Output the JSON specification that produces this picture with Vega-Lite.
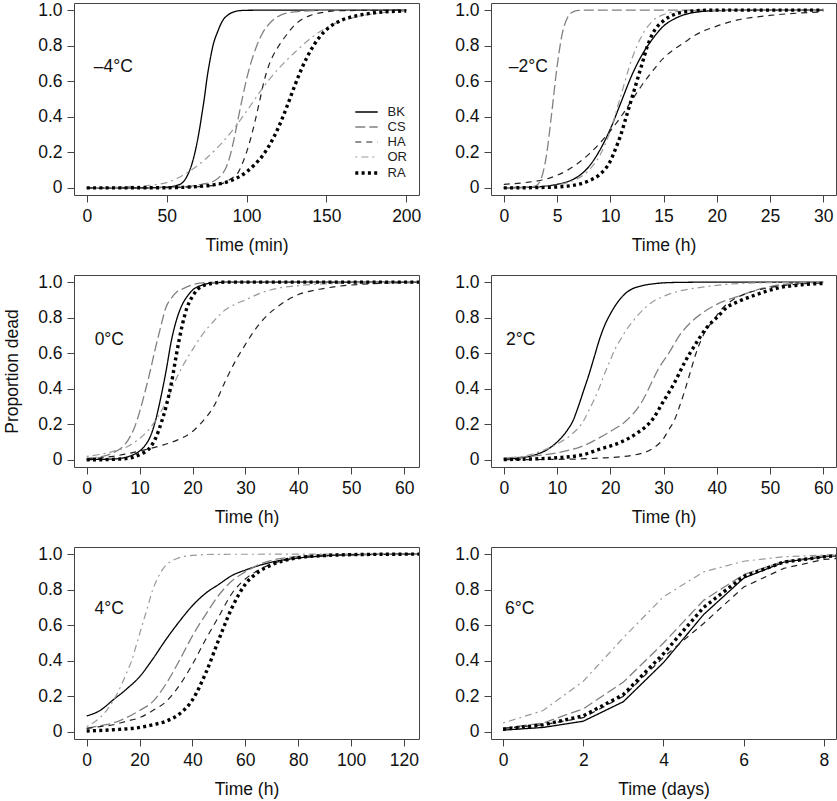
{
"$schema": "https://vega.github.io/schema/vega-lite/v6.json",
"padding": {"left": 3, "top": 0, "right": 2, "bottom": 2},
"bounds": "flush",
"spacing": {"row": 80, "column": 72},
"columns": 2,
"datasets": {
"lab": [
{"g":"a","txt":"–4°C","t":4.4,"p":0.68},
{"g":"b","txt":"–2°C","t":0.47,"p":0.68},
{"g":"c","txt":"0°C","t":1.5,"p":0.674},
{"g":"d","txt":"2°C","t":0.4,"p":0.674},
{"g":"e","txt":"4°C","t":3.0,"p":0.69},
{"g":"f","txt":"6°C","t":0.05,"p":0.69}
],
"curves": [
{"g":"a","s":"BK","t":0,"p":0},{"g":"a","s":"BK","t":30,"p":0},{"g":"a","s":"BK","t":45,"p":0.002},{"g":"a","s":"BK","t":52,"p":0.006},{"g":"a","s":"BK","t":56,"p":0.013},{"g":"a","s":"BK","t":60,"p":0.03},{"g":"a","s":"BK","t":63,"p":0.07},{"g":"a","s":"BK","t":66,"p":0.14},{"g":"a","s":"BK","t":68,"p":0.21},{"g":"a","s":"BK","t":70,"p":0.3},{"g":"a","s":"BK","t":72,"p":0.41},{"g":"a","s":"BK","t":74,"p":0.53},{"g":"a","s":"BK","t":75,"p":0.6},{"g":"a","s":"BK","t":77,"p":0.71},{"g":"a","s":"BK","t":79,"p":0.8},{"g":"a","s":"BK","t":82,"p":0.88},{"g":"a","s":"BK","t":85,"p":0.94},{"g":"a","s":"BK","t":88,"p":0.97},{"g":"a","s":"BK","t":92,"p":0.99},{"g":"a","s":"BK","t":96,"p":0.997},{"g":"a","s":"BK","t":100,"p":0.999},{"g":"a","s":"BK","t":120,"p":1},{"g":"a","s":"BK","t":200,"p":1},
{"g":"a","s":"CS","t":0,"p":0},{"g":"a","s":"CS","t":40,"p":0.001},{"g":"a","s":"CS","t":55,"p":0.004},{"g":"a","s":"CS","t":65,"p":0.01},{"g":"a","s":"CS","t":72,"p":0.02},{"g":"a","s":"CS","t":80,"p":0.04},{"g":"a","s":"CS","t":84,"p":0.07},{"g":"a","s":"CS","t":87,"p":0.11},{"g":"a","s":"CS","t":90,"p":0.19},{"g":"a","s":"CS","t":93,"p":0.31},{"g":"a","s":"CS","t":95,"p":0.4},{"g":"a","s":"CS","t":98,"p":0.53},{"g":"a","s":"CS","t":100,"p":0.61},{"g":"a","s":"CS","t":103,"p":0.71},{"g":"a","s":"CS","t":106,"p":0.79},{"g":"a","s":"CS","t":110,"p":0.87},{"g":"a","s":"CS","t":115,"p":0.93},{"g":"a","s":"CS","t":120,"p":0.965},{"g":"a","s":"CS","t":130,"p":0.99},{"g":"a","s":"CS","t":145,"p":0.998},{"g":"a","s":"CS","t":160,"p":1},{"g":"a","s":"CS","t":200,"p":1},
{"g":"a","s":"HA","t":0,"p":0},{"g":"a","s":"HA","t":50,"p":0.001},{"g":"a","s":"HA","t":65,"p":0.005},{"g":"a","s":"HA","t":75,"p":0.01},{"g":"a","s":"HA","t":85,"p":0.025},{"g":"a","s":"HA","t":90,"p":0.05},{"g":"a","s":"HA","t":95,"p":0.09},{"g":"a","s":"HA","t":98,"p":0.15},{"g":"a","s":"HA","t":100,"p":0.2},{"g":"a","s":"HA","t":103,"p":0.29},{"g":"a","s":"HA","t":106,"p":0.4},{"g":"a","s":"HA","t":108,"p":0.48},{"g":"a","s":"HA","t":111,"p":0.6},{"g":"a","s":"HA","t":114,"p":0.69},{"g":"a","s":"HA","t":117,"p":0.75},{"g":"a","s":"HA","t":121,"p":0.81},{"g":"a","s":"HA","t":125,"p":0.86},{"g":"a","s":"HA","t":130,"p":0.915},{"g":"a","s":"HA","t":135,"p":0.95},{"g":"a","s":"HA","t":140,"p":0.97},{"g":"a","s":"HA","t":150,"p":0.99},{"g":"a","s":"HA","t":160,"p":0.997},{"g":"a","s":"HA","t":200,"p":1},
{"g":"a","s":"OR","t":0,"p":0.001},{"g":"a","s":"OR","t":20,"p":0.005},{"g":"a","s":"OR","t":40,"p":0.015},{"g":"a","s":"OR","t":50,"p":0.03},{"g":"a","s":"OR","t":60,"p":0.07},{"g":"a","s":"OR","t":70,"p":0.13},{"g":"a","s":"OR","t":80,"p":0.21},{"g":"a","s":"OR","t":90,"p":0.31},{"g":"a","s":"OR","t":100,"p":0.43},{"g":"a","s":"OR","t":110,"p":0.56},{"g":"a","s":"OR","t":120,"p":0.67},{"g":"a","s":"OR","t":130,"p":0.76},{"g":"a","s":"OR","t":140,"p":0.84},{"g":"a","s":"OR","t":150,"p":0.9},{"g":"a","s":"OR","t":160,"p":0.94},{"g":"a","s":"OR","t":170,"p":0.965},{"g":"a","s":"OR","t":180,"p":0.98},{"g":"a","s":"OR","t":190,"p":0.99},{"g":"a","s":"OR","t":200,"p":0.995},
{"g":"a","s":"RA","t":0,"p":0},{"g":"a","s":"RA","t":50,"p":0.001},{"g":"a","s":"RA","t":60,"p":0.003},{"g":"a","s":"RA","t":70,"p":0.008},{"g":"a","s":"RA","t":80,"p":0.018},{"g":"a","s":"RA","t":90,"p":0.04},{"g":"a","s":"RA","t":100,"p":0.09},{"g":"a","s":"RA","t":105,"p":0.13},{"g":"a","s":"RA","t":110,"p":0.18},{"g":"a","s":"RA","t":115,"p":0.25},{"g":"a","s":"RA","t":120,"p":0.34},{"g":"a","s":"RA","t":125,"p":0.45},{"g":"a","s":"RA","t":130,"p":0.57},{"g":"a","s":"RA","t":135,"p":0.68},{"g":"a","s":"RA","t":140,"p":0.77},{"g":"a","s":"RA","t":145,"p":0.84},{"g":"a","s":"RA","t":150,"p":0.89},{"g":"a","s":"RA","t":160,"p":0.945},{"g":"a","s":"RA","t":170,"p":0.97},{"g":"a","s":"RA","t":180,"p":0.985},{"g":"a","s":"RA","t":190,"p":0.992},{"g":"a","s":"RA","t":200,"p":0.995},

{"g":"b","s":"BK","t":0,"p":0},{"g":"b","s":"BK","t":3,"p":0.005},{"g":"b","s":"BK","t":5,"p":0.02},{"g":"b","s":"BK","t":6,"p":0.035},{"g":"b","s":"BK","t":7,"p":0.065},{"g":"b","s":"BK","t":8,"p":0.12},{"g":"b","s":"BK","t":9,"p":0.21},{"g":"b","s":"BK","t":10,"p":0.33},{"g":"b","s":"BK","t":11,"p":0.48},{"g":"b","s":"BK","t":12,"p":0.63},{"g":"b","s":"BK","t":13,"p":0.75},{"g":"b","s":"BK","t":14,"p":0.84},{"g":"b","s":"BK","t":15,"p":0.91},{"g":"b","s":"BK","t":16,"p":0.95},{"g":"b","s":"BK","t":17,"p":0.975},{"g":"b","s":"BK","t":18,"p":0.988},{"g":"b","s":"BK","t":20,"p":0.997},{"g":"b","s":"BK","t":25,"p":1},{"g":"b","s":"BK","t":30,"p":1},
{"g":"b","s":"CS","t":0,"p":0.001},{"g":"b","s":"CS","t":2,"p":0.003},{"g":"b","s":"CS","t":3,"p":0.012},{"g":"b","s":"CS","t":3.5,"p":0.05},{"g":"b","s":"CS","t":4,"p":0.18},{"g":"b","s":"CS","t":4.5,"p":0.42},{"g":"b","s":"CS","t":5,"p":0.68},{"g":"b","s":"CS","t":5.5,"p":0.87},{"g":"b","s":"CS","t":6,"p":0.96},{"g":"b","s":"CS","t":6.5,"p":0.99},{"g":"b","s":"CS","t":7,"p":0.998},{"g":"b","s":"CS","t":8,"p":1},{"g":"b","s":"CS","t":30,"p":1},
{"g":"b","s":"HA","t":0,"p":0.02},{"g":"b","s":"HA","t":2,"p":0.03},{"g":"b","s":"HA","t":4,"p":0.05},{"g":"b","s":"HA","t":6,"p":0.1},{"g":"b","s":"HA","t":7,"p":0.14},{"g":"b","s":"HA","t":8,"p":0.19},{"g":"b","s":"HA","t":9,"p":0.25},{"g":"b","s":"HA","t":10,"p":0.32},{"g":"b","s":"HA","t":11,"p":0.4},{"g":"b","s":"HA","t":12,"p":0.49},{"g":"b","s":"HA","t":13,"p":0.58},{"g":"b","s":"HA","t":14,"p":0.66},{"g":"b","s":"HA","t":15,"p":0.73},{"g":"b","s":"HA","t":16,"p":0.78},{"g":"b","s":"HA","t":17,"p":0.82},{"g":"b","s":"HA","t":18,"p":0.86},{"g":"b","s":"HA","t":20,"p":0.91},{"g":"b","s":"HA","t":22,"p":0.945},{"g":"b","s":"HA","t":25,"p":0.97},{"g":"b","s":"HA","t":30,"p":0.99},
{"g":"b","s":"OR","t":0,"p":0.003},{"g":"b","s":"OR","t":4,"p":0.01},{"g":"b","s":"OR","t":6,"p":0.03},{"g":"b","s":"OR","t":8,"p":0.1},{"g":"b","s":"OR","t":9,"p":0.18},{"g":"b","s":"OR","t":10,"p":0.32},{"g":"b","s":"OR","t":11,"p":0.52},{"g":"b","s":"OR","t":12,"p":0.72},{"g":"b","s":"OR","t":13,"p":0.86},{"g":"b","s":"OR","t":14,"p":0.94},{"g":"b","s":"OR","t":15,"p":0.975},{"g":"b","s":"OR","t":16,"p":0.99},{"g":"b","s":"OR","t":18,"p":0.998},{"g":"b","s":"OR","t":30,"p":1},
{"g":"b","s":"RA","t":0,"p":0},{"g":"b","s":"RA","t":4,"p":0.003},{"g":"b","s":"RA","t":6,"p":0.01},{"g":"b","s":"RA","t":8,"p":0.04},{"g":"b","s":"RA","t":9,"p":0.075},{"g":"b","s":"RA","t":10,"p":0.15},{"g":"b","s":"RA","t":10.5,"p":0.22},{"g":"b","s":"RA","t":11,"p":0.3},{"g":"b","s":"RA","t":11.5,"p":0.4},{"g":"b","s":"RA","t":12,"p":0.5},{"g":"b","s":"RA","t":12.5,"p":0.6},{"g":"b","s":"RA","t":13,"p":0.7},{"g":"b","s":"RA","t":13.5,"p":0.8},{"g":"b","s":"RA","t":14,"p":0.87},{"g":"b","s":"RA","t":15,"p":0.94},{"g":"b","s":"RA","t":16,"p":0.975},{"g":"b","s":"RA","t":17,"p":0.99},{"g":"b","s":"RA","t":18,"p":0.996},{"g":"b","s":"RA","t":20,"p":1},{"g":"b","s":"RA","t":30,"p":1},

{"g":"c","s":"BK","t":0,"p":0.002},{"g":"c","s":"BK","t":5,"p":0.005},{"g":"c","s":"BK","t":8,"p":0.02},{"g":"c","s":"BK","t":10,"p":0.05},{"g":"c","s":"BK","t":11,"p":0.08},{"g":"c","s":"BK","t":12,"p":0.13},{"g":"c","s":"BK","t":13,"p":0.22},{"g":"c","s":"BK","t":14,"p":0.35},{"g":"c","s":"BK","t":15,"p":0.5},{"g":"c","s":"BK","t":16,"p":0.67},{"g":"c","s":"BK","t":17,"p":0.79},{"g":"c","s":"BK","t":18,"p":0.87},{"g":"c","s":"BK","t":19,"p":0.92},{"g":"c","s":"BK","t":20,"p":0.955},{"g":"c","s":"BK","t":22,"p":0.985},{"g":"c","s":"BK","t":24,"p":0.996},{"g":"c","s":"BK","t":28,"p":1},{"g":"c","s":"BK","t":62.8,"p":1},
{"g":"c","s":"CS","t":0,"p":0.01},{"g":"c","s":"CS","t":3,"p":0.02},{"g":"c","s":"CS","t":5,"p":0.04},{"g":"c","s":"CS","t":7,"p":0.08},{"g":"c","s":"CS","t":8,"p":0.12},{"g":"c","s":"CS","t":9,"p":0.18},{"g":"c","s":"CS","t":10,"p":0.27},{"g":"c","s":"CS","t":11,"p":0.38},{"g":"c","s":"CS","t":12,"p":0.5},{"g":"c","s":"CS","t":13,"p":0.63},{"g":"c","s":"CS","t":14,"p":0.75},{"g":"c","s":"CS","t":15,"p":0.86},{"g":"c","s":"CS","t":16,"p":0.91},{"g":"c","s":"CS","t":17,"p":0.945},{"g":"c","s":"CS","t":18,"p":0.96},{"g":"c","s":"CS","t":20,"p":0.985},{"g":"c","s":"CS","t":23,"p":0.998},{"g":"c","s":"CS","t":30,"p":1},{"g":"c","s":"CS","t":62.8,"p":1},
{"g":"c","s":"HA","t":0,"p":0.005},{"g":"c","s":"HA","t":5,"p":0.02},{"g":"c","s":"HA","t":10,"p":0.05},{"g":"c","s":"HA","t":14,"p":0.08},{"g":"c","s":"HA","t":17,"p":0.11},{"g":"c","s":"HA","t":20,"p":0.16},{"g":"c","s":"HA","t":22,"p":0.22},{"g":"c","s":"HA","t":24,"p":0.3},{"g":"c","s":"HA","t":26,"p":0.43},{"g":"c","s":"HA","t":28,"p":0.55},{"g":"c","s":"HA","t":30,"p":0.65},{"g":"c","s":"HA","t":32,"p":0.74},{"g":"c","s":"HA","t":34,"p":0.81},{"g":"c","s":"HA","t":36,"p":0.86},{"g":"c","s":"HA","t":38,"p":0.9},{"g":"c","s":"HA","t":40,"p":0.93},{"g":"c","s":"HA","t":44,"p":0.96},{"g":"c","s":"HA","t":48,"p":0.978},{"g":"c","s":"HA","t":52,"p":0.988},{"g":"c","s":"HA","t":56,"p":0.994},{"g":"c","s":"HA","t":62.8,"p":0.998},
{"g":"c","s":"OR","t":0,"p":0.02},{"g":"c","s":"OR","t":4,"p":0.04},{"g":"c","s":"OR","t":8,"p":0.08},{"g":"c","s":"OR","t":10,"p":0.12},{"g":"c","s":"OR","t":12,"p":0.18},{"g":"c","s":"OR","t":14,"p":0.27},{"g":"c","s":"OR","t":16,"p":0.39},{"g":"c","s":"OR","t":17,"p":0.46},{"g":"c","s":"OR","t":18,"p":0.52},{"g":"c","s":"OR","t":20,"p":0.62},{"g":"c","s":"OR","t":22,"p":0.71},{"g":"c","s":"OR","t":24,"p":0.78},{"g":"c","s":"OR","t":26,"p":0.84},{"g":"c","s":"OR","t":28,"p":0.875},{"g":"c","s":"OR","t":30,"p":0.9},{"g":"c","s":"OR","t":33,"p":0.94},{"g":"c","s":"OR","t":36,"p":0.965},{"g":"c","s":"OR","t":40,"p":0.98},{"g":"c","s":"OR","t":45,"p":0.99},{"g":"c","s":"OR","t":50,"p":0.995},{"g":"c","s":"OR","t":55,"p":0.998},{"g":"c","s":"OR","t":62.8,"p":1},
{"g":"c","s":"RA","t":0,"p":0},{"g":"c","s":"RA","t":5,"p":0.003},{"g":"c","s":"RA","t":8,"p":0.01},{"g":"c","s":"RA","t":10,"p":0.03},{"g":"c","s":"RA","t":12,"p":0.07},{"g":"c","s":"RA","t":13,"p":0.12},{"g":"c","s":"RA","t":14,"p":0.2},{"g":"c","s":"RA","t":15,"p":0.3},{"g":"c","s":"RA","t":16,"p":0.43},{"g":"c","s":"RA","t":17,"p":0.6},{"g":"c","s":"RA","t":18,"p":0.75},{"g":"c","s":"RA","t":19,"p":0.86},{"g":"c","s":"RA","t":20,"p":0.92},{"g":"c","s":"RA","t":21,"p":0.96},{"g":"c","s":"RA","t":22,"p":0.98},{"g":"c","s":"RA","t":24,"p":0.994},{"g":"c","s":"RA","t":26,"p":1},{"g":"c","s":"RA","t":62.8,"p":1},

{"g":"d","s":"BK","t":0,"p":0.005},{"g":"d","s":"BK","t":4,"p":0.015},{"g":"d","s":"BK","t":6,"p":0.03},{"g":"d","s":"BK","t":8,"p":0.055},{"g":"d","s":"BK","t":10,"p":0.1},{"g":"d","s":"BK","t":12,"p":0.17},{"g":"d","s":"BK","t":13,"p":0.22},{"g":"d","s":"BK","t":14,"p":0.3},{"g":"d","s":"BK","t":15,"p":0.39},{"g":"d","s":"BK","t":16,"p":0.48},{"g":"d","s":"BK","t":17,"p":0.58},{"g":"d","s":"BK","t":18,"p":0.68},{"g":"d","s":"BK","t":19,"p":0.76},{"g":"d","s":"BK","t":20,"p":0.82},{"g":"d","s":"BK","t":21,"p":0.87},{"g":"d","s":"BK","t":22,"p":0.91},{"g":"d","s":"BK","t":23,"p":0.94},{"g":"d","s":"BK","t":24,"p":0.96},{"g":"d","s":"BK","t":26,"p":0.98},{"g":"d","s":"BK","t":28,"p":0.99},{"g":"d","s":"BK","t":32,"p":0.998},{"g":"d","s":"BK","t":40,"p":1},{"g":"d","s":"BK","t":60,"p":1},
{"g":"d","s":"CS","t":0,"p":0.01},{"g":"d","s":"CS","t":5,"p":0.02},{"g":"d","s":"CS","t":10,"p":0.04},{"g":"d","s":"CS","t":15,"p":0.08},{"g":"d","s":"CS","t":18,"p":0.125},{"g":"d","s":"CS","t":20,"p":0.16},{"g":"d","s":"CS","t":23,"p":0.22},{"g":"d","s":"CS","t":26,"p":0.33},{"g":"d","s":"CS","t":28,"p":0.45},{"g":"d","s":"CS","t":29,"p":0.51},{"g":"d","s":"CS","t":31,"p":0.6},{"g":"d","s":"CS","t":33,"p":0.7},{"g":"d","s":"CS","t":35,"p":0.77},{"g":"d","s":"CS","t":37,"p":0.82},{"g":"d","s":"CS","t":40,"p":0.875},{"g":"d","s":"CS","t":44,"p":0.92},{"g":"d","s":"CS","t":48,"p":0.96},{"g":"d","s":"CS","t":52,"p":0.985},{"g":"d","s":"CS","t":56,"p":0.994},{"g":"d","s":"CS","t":60,"p":0.998},
{"g":"d","s":"HA","t":0,"p":0.001},{"g":"d","s":"HA","t":10,"p":0.003},{"g":"d","s":"HA","t":18,"p":0.01},{"g":"d","s":"HA","t":24,"p":0.025},{"g":"d","s":"HA","t":28,"p":0.065},{"g":"d","s":"HA","t":30,"p":0.12},{"g":"d","s":"HA","t":31,"p":0.17},{"g":"d","s":"HA","t":32,"p":0.22},{"g":"d","s":"HA","t":33,"p":0.3},{"g":"d","s":"HA","t":34,"p":0.39},{"g":"d","s":"HA","t":35,"p":0.49},{"g":"d","s":"HA","t":36,"p":0.59},{"g":"d","s":"HA","t":37,"p":0.67},{"g":"d","s":"HA","t":38,"p":0.73},{"g":"d","s":"HA","t":39,"p":0.77},{"g":"d","s":"HA","t":41,"p":0.85},{"g":"d","s":"HA","t":43,"p":0.9},{"g":"d","s":"HA","t":46,"p":0.94},{"g":"d","s":"HA","t":50,"p":0.97},{"g":"d","s":"HA","t":55,"p":0.988},{"g":"d","s":"HA","t":60,"p":0.995},
{"g":"d","s":"OR","t":0,"p":0.01},{"g":"d","s":"OR","t":5,"p":0.03},{"g":"d","s":"OR","t":10,"p":0.09},{"g":"d","s":"OR","t":13,"p":0.15},{"g":"d","s":"OR","t":15,"p":0.22},{"g":"d","s":"OR","t":16,"p":0.28},{"g":"d","s":"OR","t":17,"p":0.34},{"g":"d","s":"OR","t":18,"p":0.41},{"g":"d","s":"OR","t":19,"p":0.49},{"g":"d","s":"OR","t":20,"p":0.56},{"g":"d","s":"OR","t":21,"p":0.63},{"g":"d","s":"OR","t":22,"p":0.68},{"g":"d","s":"OR","t":23,"p":0.73},{"g":"d","s":"OR","t":24,"p":0.77},{"g":"d","s":"OR","t":26,"p":0.84},{"g":"d","s":"OR","t":28,"p":0.89},{"g":"d","s":"OR","t":30,"p":0.92},{"g":"d","s":"OR","t":33,"p":0.95},{"g":"d","s":"OR","t":37,"p":0.97},{"g":"d","s":"OR","t":43,"p":0.99},{"g":"d","s":"OR","t":50,"p":0.997},{"g":"d","s":"OR","t":60,"p":1},
{"g":"d","s":"RA","t":0,"p":0.002},{"g":"d","s":"RA","t":5,"p":0.005},{"g":"d","s":"RA","t":10,"p":0.012},{"g":"d","s":"RA","t":15,"p":0.03},{"g":"d","s":"RA","t":18,"p":0.06},{"g":"d","s":"RA","t":22,"p":0.1},{"g":"d","s":"RA","t":25,"p":0.15},{"g":"d","s":"RA","t":28,"p":0.23},{"g":"d","s":"RA","t":30,"p":0.33},{"g":"d","s":"RA","t":32,"p":0.43},{"g":"d","s":"RA","t":34,"p":0.55},{"g":"d","s":"RA","t":36,"p":0.65},{"g":"d","s":"RA","t":38,"p":0.74},{"g":"d","s":"RA","t":40,"p":0.8},{"g":"d","s":"RA","t":42,"p":0.86},{"g":"d","s":"RA","t":44,"p":0.89},{"g":"d","s":"RA","t":47,"p":0.925},{"g":"d","s":"RA","t":52,"p":0.97},{"g":"d","s":"RA","t":56,"p":0.985},{"g":"d","s":"RA","t":60,"p":0.993},

{"g":"e","s":"BK","t":0,"p":0.09},{"g":"e","s":"BK","t":5,"p":0.12},{"g":"e","s":"BK","t":10,"p":0.18},{"g":"e","s":"BK","t":15,"p":0.24},{"g":"e","s":"BK","t":20,"p":0.31},{"g":"e","s":"BK","t":25,"p":0.41},{"g":"e","s":"BK","t":30,"p":0.52},{"g":"e","s":"BK","t":35,"p":0.62},{"g":"e","s":"BK","t":40,"p":0.71},{"g":"e","s":"BK","t":45,"p":0.78},{"g":"e","s":"BK","t":50,"p":0.83},{"g":"e","s":"BK","t":55,"p":0.88},{"g":"e","s":"BK","t":60,"p":0.91},{"g":"e","s":"BK","t":65,"p":0.935},{"g":"e","s":"BK","t":70,"p":0.955},{"g":"e","s":"BK","t":80,"p":0.978},{"g":"e","s":"BK","t":90,"p":0.99},{"g":"e","s":"BK","t":100,"p":0.996},{"g":"e","s":"BK","t":125.7,"p":1},
{"g":"e","s":"CS","t":0,"p":0.02},{"g":"e","s":"CS","t":5,"p":0.035},{"g":"e","s":"CS","t":10,"p":0.05},{"g":"e","s":"CS","t":15,"p":0.08},{"g":"e","s":"CS","t":20,"p":0.12},{"g":"e","s":"CS","t":25,"p":0.17},{"g":"e","s":"CS","t":30,"p":0.27},{"g":"e","s":"CS","t":35,"p":0.4},{"g":"e","s":"CS","t":40,"p":0.54},{"g":"e","s":"CS","t":45,"p":0.66},{"g":"e","s":"CS","t":50,"p":0.77},{"g":"e","s":"CS","t":55,"p":0.85},{"g":"e","s":"CS","t":60,"p":0.9},{"g":"e","s":"CS","t":65,"p":0.94},{"g":"e","s":"CS","t":70,"p":0.965},{"g":"e","s":"CS","t":80,"p":0.987},{"g":"e","s":"CS","t":90,"p":0.995},{"g":"e","s":"CS","t":100,"p":0.998},{"g":"e","s":"CS","t":125.7,"p":1},
{"g":"e","s":"HA","t":0,"p":0.02},{"g":"e","s":"HA","t":5,"p":0.03},{"g":"e","s":"HA","t":10,"p":0.04},{"g":"e","s":"HA","t":15,"p":0.06},{"g":"e","s":"HA","t":20,"p":0.08},{"g":"e","s":"HA","t":25,"p":0.12},{"g":"e","s":"HA","t":30,"p":0.17},{"g":"e","s":"HA","t":35,"p":0.26},{"g":"e","s":"HA","t":40,"p":0.38},{"g":"e","s":"HA","t":45,"p":0.52},{"g":"e","s":"HA","t":50,"p":0.65},{"g":"e","s":"HA","t":55,"p":0.78},{"g":"e","s":"HA","t":60,"p":0.86},{"g":"e","s":"HA","t":65,"p":0.91},{"g":"e","s":"HA","t":70,"p":0.945},{"g":"e","s":"HA","t":75,"p":0.965},{"g":"e","s":"HA","t":80,"p":0.978},{"g":"e","s":"HA","t":90,"p":0.992},{"g":"e","s":"HA","t":100,"p":0.997},{"g":"e","s":"HA","t":125.7,"p":1},
{"g":"e","s":"OR","t":0,"p":0.03},{"g":"e","s":"OR","t":5,"p":0.08},{"g":"e","s":"OR","t":8,"p":0.13},{"g":"e","s":"OR","t":11,"p":0.2},{"g":"e","s":"OR","t":13,"p":0.26},{"g":"e","s":"OR","t":15,"p":0.33},{"g":"e","s":"OR","t":17,"p":0.4},{"g":"e","s":"OR","t":19,"p":0.5},{"g":"e","s":"OR","t":21,"p":0.6},{"g":"e","s":"OR","t":23,"p":0.7},{"g":"e","s":"OR","t":25,"p":0.8},{"g":"e","s":"OR","t":27,"p":0.87},{"g":"e","s":"OR","t":29,"p":0.92},{"g":"e","s":"OR","t":32,"p":0.96},{"g":"e","s":"OR","t":35,"p":0.98},{"g":"e","s":"OR","t":40,"p":0.993},{"g":"e","s":"OR","t":50,"p":0.999},{"g":"e","s":"OR","t":125.7,"p":1},
{"g":"e","s":"RA","t":0,"p":0.005},{"g":"e","s":"RA","t":10,"p":0.012},{"g":"e","s":"RA","t":20,"p":0.025},{"g":"e","s":"RA","t":25,"p":0.04},{"g":"e","s":"RA","t":30,"p":0.06},{"g":"e","s":"RA","t":35,"p":0.1},{"g":"e","s":"RA","t":40,"p":0.18},{"g":"e","s":"RA","t":45,"p":0.33},{"g":"e","s":"RA","t":50,"p":0.52},{"g":"e","s":"RA","t":55,"p":0.7},{"g":"e","s":"RA","t":60,"p":0.83},{"g":"e","s":"RA","t":65,"p":0.9},{"g":"e","s":"RA","t":70,"p":0.94},{"g":"e","s":"RA","t":75,"p":0.965},{"g":"e","s":"RA","t":80,"p":0.98},{"g":"e","s":"RA","t":90,"p":0.992},{"g":"e","s":"RA","t":100,"p":0.997},{"g":"e","s":"RA","t":125.7,"p":1},

{"g":"f","s":"BK","t":0,"p":0.01},{"g":"f","s":"BK","t":1,"p":0.025},{"g":"f","s":"BK","t":2,"p":0.06},{"g":"f","s":"BK","t":3,"p":0.17},{"g":"f","s":"BK","t":4,"p":0.39},{"g":"f","s":"BK","t":5,"p":0.66},{"g":"f","s":"BK","t":6,"p":0.865},{"g":"f","s":"BK","t":7,"p":0.955},{"g":"f","s":"BK","t":8,"p":0.985},{"g":"f","s":"BK","t":8.3,"p":0.99},
{"g":"f","s":"CS","t":0,"p":0.02},{"g":"f","s":"CS","t":1,"p":0.05},{"g":"f","s":"CS","t":2,"p":0.13},{"g":"f","s":"CS","t":3,"p":0.28},{"g":"f","s":"CS","t":4,"p":0.5},{"g":"f","s":"CS","t":5,"p":0.74},{"g":"f","s":"CS","t":6,"p":0.885},{"g":"f","s":"CS","t":7,"p":0.96},{"g":"f","s":"CS","t":8,"p":0.99},{"g":"f","s":"CS","t":8.3,"p":0.993},
{"g":"f","s":"HA","t":0,"p":0.02},{"g":"f","s":"HA","t":1,"p":0.04},{"g":"f","s":"HA","t":2,"p":0.08},{"g":"f","s":"HA","t":3,"p":0.2},{"g":"f","s":"HA","t":4,"p":0.42},{"g":"f","s":"HA","t":5,"p":0.61},{"g":"f","s":"HA","t":6,"p":0.815},{"g":"f","s":"HA","t":7,"p":0.92},{"g":"f","s":"HA","t":8,"p":0.97},{"g":"f","s":"HA","t":8.3,"p":0.975},
{"g":"f","s":"OR","t":0,"p":0.05},{"g":"f","s":"OR","t":1,"p":0.12},{"g":"f","s":"OR","t":2,"p":0.285},{"g":"f","s":"OR","t":3,"p":0.53},{"g":"f","s":"OR","t":4,"p":0.76},{"g":"f","s":"OR","t":5,"p":0.9},{"g":"f","s":"OR","t":6,"p":0.96},{"g":"f","s":"OR","t":7,"p":0.985},{"g":"f","s":"OR","t":8,"p":0.995},{"g":"f","s":"OR","t":8.3,"p":0.997},
{"g":"f","s":"RA","t":0,"p":0.015},{"g":"f","s":"RA","t":1,"p":0.04},{"g":"f","s":"RA","t":2,"p":0.09},{"g":"f","s":"RA","t":3,"p":0.21},{"g":"f","s":"RA","t":4,"p":0.44},{"g":"f","s":"RA","t":5,"p":0.7},{"g":"f","s":"RA","t":6,"p":0.875},{"g":"f","s":"RA","t":7,"p":0.955},{"g":"f","s":"RA","t":8,"p":0.985},{"g":"f","s":"RA","t":8.3,"p":0.99}
]
},
"config": {
"font": "Liberation Sans",
"view": {"stroke": "#444", "strokeWidth": 1},
"axis": {"grid": false, "domain": false, "tickColor": "#444", "tickSize": 7, "labelFontSize": 17.5, "labelColor": "#111", "labelOverlap": false, "labelFlush": false, "titleFontSize": 17.5, "titleFontWeight": "normal", "titleColor": "#111", "labelFont": "Liberation Sans", "titleFont": "Liberation Sans"},
"axisX": {"labelPadding": 5, "titlePadding": 12, "titleFontWeight": "normal", "tickCount": 12},
"axisY": {"labelPadding": 5, "titlePadding": 16, "titleFontWeight": "normal", "tickCount": 12},
"legend": {"orient": "none", "legendX": 283.5, "legendY": 101, "labelFontSize": 13, "labelColor": "#222", "labelFont": "Liberation Sans", "symbolType": "M-1.6,0H1.6", "symbolSize": 196, "rowPadding": 0, "labelOffset": 12, "padding": 0}
},
"resolve": {"scale": {"x": "independent", "y": "independent"}},
"concat": [
{"width": 345, "height": 192, "layer": [
 {"data": {"name": "curves"}, "transform": [{"filter": "datum.g == 'a'"}], "mark": {"type": "line", "interpolate": "monotone", "clip": true},
  "encoding": {
   "x": {"field": "t", "type": "quantitative", "scale": {"domain": [-8, 208], "nice": false, "zero": false}, "axis": {"values": [0, 50, 100, 150, 200], "tickCount": 12, "title": "Time (min)", "titleFontWeight": "normal", "labelOverlap": false}},
   "y": {"field": "p", "type": "quantitative", "scale": {"domain": [-0.04, 1.04], "nice": false, "zero": false}, "axis": {"values": [0, 0.2, 0.4, 0.6, 0.8, 1], "tickCount": 12, "labelOverlap": false, "labelExpr": "datum.value == 0 ? '0' : format(datum.value, '.1f')", "title": null}},
   "strokeDash": {"field": "s", "type": "nominal", "scale": {"domain": ["BK", "CS", "HA", "OR", "RA"], "range": [[1, 0], [10, 4], [6, 5], [2, 4, 7, 4], [3, 3.3]]}, "legend": {"title": null}},
   "color": {"field": "s", "type": "nominal", "scale": {"domain": ["BK", "CS", "HA", "OR", "RA"], "range": ["#000000", "#808080", "#222222", "#9a9a9a", "#000000"]}, "legend": {"title": null}},
   "strokeWidth": {"field": "s", "type": "ordinal", "scale": {"type": "ordinal", "domain": ["BK", "CS", "HA", "OR", "RA"], "range": [1.3, 1.3, 1.2, 1.2, 3.4]}, "legend": {"title": null}}
  }},
 {"data": {"name": "lab"}, "transform": [{"filter": "datum.g == 'a'"}], "mark": {"type": "text", "align": "left", "baseline": "middle", "fontSize": 17.5, "color": "#111"},
  "encoding": {"x": {"field": "t", "type": "quantitative"}, "y": {"field": "p", "type": "quantitative"}, "text": {"field": "txt"}}}
]},
{"width": 345, "height": 192, "layer": [
 {"data": {"name": "curves"}, "transform": [{"filter": "datum.g == 'b'"}], "mark": {"type": "line", "interpolate": "monotone", "clip": true},
  "encoding": {
   "x": {"field": "t", "type": "quantitative", "scale": {"domain": [-1.2, 31.2], "nice": false, "zero": false}, "axis": {"values": [0, 5, 10, 15, 20, 25, 30], "tickCount": 12, "title": "Time (h)", "titleFontWeight": "normal", "labelOverlap": false}},
   "y": {"field": "p", "type": "quantitative", "scale": {"domain": [-0.04, 1.04], "nice": false, "zero": false}, "axis": {"values": [0, 0.2, 0.4, 0.6, 0.8, 1], "tickCount": 12, "labelOverlap": false, "labelExpr": "datum.value == 0 ? '0' : format(datum.value, '.1f')", "title": null}},
   "strokeDash": {"field": "s", "type": "nominal", "scale": {"domain": ["BK", "CS", "HA", "OR", "RA"], "range": [[1, 0], [10, 4], [6, 5], [2, 4, 7, 4], [3, 3.3]]}, "legend": {"title": null}},
   "color": {"field": "s", "type": "nominal", "scale": {"domain": ["BK", "CS", "HA", "OR", "RA"], "range": ["#000000", "#808080", "#222222", "#9a9a9a", "#000000"]}, "legend": {"title": null}},
   "strokeWidth": {"field": "s", "type": "ordinal", "scale": {"type": "ordinal", "domain": ["BK", "CS", "HA", "OR", "RA"], "range": [1.3, 1.3, 1.2, 1.2, 3.4]}, "legend": {"title": null}}
  }},
 {"data": {"name": "lab"}, "transform": [{"filter": "datum.g == 'b'"}], "mark": {"type": "text", "align": "left", "baseline": "middle", "fontSize": 17.5, "color": "#111"},
  "encoding": {"x": {"field": "t", "type": "quantitative"}, "y": {"field": "p", "type": "quantitative"}, "text": {"field": "txt"}}}
]},
{"width": 345, "height": 192, "layer": [
 {"data": {"name": "curves"}, "transform": [{"filter": "datum.g == 'c'"}], "mark": {"type": "line", "interpolate": "monotone", "clip": true},
  "encoding": {
   "x": {"field": "t", "type": "quantitative", "scale": {"domain": [-2.4, 62.8], "nice": false, "zero": false}, "axis": {"values": [0, 10, 20, 30, 40, 50, 60], "tickCount": 12, "title": "Time (h)", "titleFontWeight": "normal", "labelOverlap": false}},
   "y": {"field": "p", "type": "quantitative", "scale": {"domain": [-0.04, 1.04], "nice": false, "zero": false}, "axis": {"values": [0, 0.2, 0.4, 0.6, 0.8, 1], "tickCount": 12, "labelOverlap": false, "labelExpr": "datum.value == 0 ? '0' : format(datum.value, '.1f')", "title": "Proportion dead", "titleFontWeight": "normal"}},
   "strokeDash": {"field": "s", "type": "nominal", "scale": {"domain": ["BK", "CS", "HA", "OR", "RA"], "range": [[1, 0], [10, 4], [6, 5], [2, 4, 7, 4], [3, 3.3]]}, "legend": {"title": null}},
   "color": {"field": "s", "type": "nominal", "scale": {"domain": ["BK", "CS", "HA", "OR", "RA"], "range": ["#000000", "#808080", "#222222", "#9a9a9a", "#000000"]}, "legend": {"title": null}},
   "strokeWidth": {"field": "s", "type": "ordinal", "scale": {"type": "ordinal", "domain": ["BK", "CS", "HA", "OR", "RA"], "range": [1.3, 1.3, 1.2, 1.2, 3.4]}, "legend": {"title": null}}
  }},
 {"data": {"name": "lab"}, "transform": [{"filter": "datum.g == 'c'"}], "mark": {"type": "text", "align": "left", "baseline": "middle", "fontSize": 17.5, "color": "#111"},
  "encoding": {"x": {"field": "t", "type": "quantitative"}, "y": {"field": "p", "type": "quantitative"}, "text": {"field": "txt"}}}
]},
{"width": 345, "height": 192, "layer": [
 {"data": {"name": "curves"}, "transform": [{"filter": "datum.g == 'd'"}], "mark": {"type": "line", "interpolate": "monotone", "clip": true},
  "encoding": {
   "x": {"field": "t", "type": "quantitative", "scale": {"domain": [-2.4, 62.4], "nice": false, "zero": false}, "axis": {"values": [0, 10, 20, 30, 40, 50, 60], "tickCount": 12, "title": "Time (h)", "titleFontWeight": "normal", "labelOverlap": false}},
   "y": {"field": "p", "type": "quantitative", "scale": {"domain": [-0.04, 1.04], "nice": false, "zero": false}, "axis": {"values": [0, 0.2, 0.4, 0.6, 0.8, 1], "tickCount": 12, "labelOverlap": false, "labelExpr": "datum.value == 0 ? '0' : format(datum.value, '.1f')", "title": null}},
   "strokeDash": {"field": "s", "type": "nominal", "scale": {"domain": ["BK", "CS", "HA", "OR", "RA"], "range": [[1, 0], [10, 4], [6, 5], [2, 4, 7, 4], [3, 3.3]]}, "legend": {"title": null}},
   "color": {"field": "s", "type": "nominal", "scale": {"domain": ["BK", "CS", "HA", "OR", "RA"], "range": ["#000000", "#808080", "#222222", "#9a9a9a", "#000000"]}, "legend": {"title": null}},
   "strokeWidth": {"field": "s", "type": "ordinal", "scale": {"type": "ordinal", "domain": ["BK", "CS", "HA", "OR", "RA"], "range": [1.3, 1.3, 1.2, 1.2, 3.4]}, "legend": {"title": null}}
  }},
 {"data": {"name": "lab"}, "transform": [{"filter": "datum.g == 'd'"}], "mark": {"type": "text", "align": "left", "baseline": "middle", "fontSize": 17.5, "color": "#111"},
  "encoding": {"x": {"field": "t", "type": "quantitative"}, "y": {"field": "p", "type": "quantitative"}, "text": {"field": "txt"}}}
]},
{"width": 345, "height": 192, "layer": [
 {"data": {"name": "curves"}, "transform": [{"filter": "datum.g == 'e'"}], "mark": {"type": "line", "interpolate": "monotone", "clip": true},
  "encoding": {
   "x": {"field": "t", "type": "quantitative", "scale": {"domain": [-4.8, 125.7], "nice": false, "zero": false}, "axis": {"values": [0, 20, 40, 60, 80, 100, 120], "tickCount": 12, "title": "Time (h)", "titleFontWeight": "normal", "labelOverlap": false}},
   "y": {"field": "p", "type": "quantitative", "scale": {"domain": [-0.04, 1.04], "nice": false, "zero": false}, "axis": {"values": [0, 0.2, 0.4, 0.6, 0.8, 1], "tickCount": 12, "labelOverlap": false, "labelExpr": "datum.value == 0 ? '0' : format(datum.value, '.1f')", "title": null}},
   "strokeDash": {"field": "s", "type": "nominal", "scale": {"domain": ["BK", "CS", "HA", "OR", "RA"], "range": [[1, 0], [10, 4], [6, 5], [2, 4, 7, 4], [3, 3.3]]}, "legend": {"title": null}},
   "color": {"field": "s", "type": "nominal", "scale": {"domain": ["BK", "CS", "HA", "OR", "RA"], "range": ["#000000", "#808080", "#222222", "#9a9a9a", "#000000"]}, "legend": {"title": null}},
   "strokeWidth": {"field": "s", "type": "ordinal", "scale": {"type": "ordinal", "domain": ["BK", "CS", "HA", "OR", "RA"], "range": [1.3, 1.3, 1.2, 1.2, 3.4]}, "legend": {"title": null}}
  }},
 {"data": {"name": "lab"}, "transform": [{"filter": "datum.g == 'e'"}], "mark": {"type": "text", "align": "left", "baseline": "middle", "fontSize": 17.5, "color": "#111"},
  "encoding": {"x": {"field": "t", "type": "quantitative"}, "y": {"field": "p", "type": "quantitative"}, "text": {"field": "txt"}}}
]},
{"width": 345, "height": 192, "layer": [
 {"data": {"name": "curves"}, "transform": [{"filter": "datum.g == 'f'"}], "mark": {"type": "line", "interpolate": "linear", "clip": true},
  "encoding": {
   "x": {"field": "t", "type": "quantitative", "scale": {"domain": [-0.3, 8.3], "nice": false, "zero": false}, "axis": {"values": [0, 2, 4, 6, 8], "tickCount": 12, "title": "Time (days)", "titleFontWeight": "normal", "labelOverlap": false}},
   "y": {"field": "p", "type": "quantitative", "scale": {"domain": [-0.04, 1.04], "nice": false, "zero": false}, "axis": {"values": [0, 0.2, 0.4, 0.6, 0.8, 1], "tickCount": 12, "labelOverlap": false, "labelExpr": "datum.value == 0 ? '0' : format(datum.value, '.1f')", "title": null}},
   "strokeDash": {"field": "s", "type": "nominal", "scale": {"domain": ["BK", "CS", "HA", "OR", "RA"], "range": [[1, 0], [10, 4], [6, 5], [2, 4, 7, 4], [3, 3.3]]}, "legend": {"title": null}},
   "color": {"field": "s", "type": "nominal", "scale": {"domain": ["BK", "CS", "HA", "OR", "RA"], "range": ["#000000", "#808080", "#222222", "#9a9a9a", "#000000"]}, "legend": {"title": null}},
   "strokeWidth": {"field": "s", "type": "ordinal", "scale": {"type": "ordinal", "domain": ["BK", "CS", "HA", "OR", "RA"], "range": [1.3, 1.3, 1.2, 1.2, 3.4]}, "legend": {"title": null}}
  }},
 {"data": {"name": "lab"}, "transform": [{"filter": "datum.g == 'f'"}], "mark": {"type": "text", "align": "left", "baseline": "middle", "fontSize": 17.5, "color": "#111"},
  "encoding": {"x": {"field": "t", "type": "quantitative"}, "y": {"field": "p", "type": "quantitative"}, "text": {"field": "txt"}}}
]}
]
}
